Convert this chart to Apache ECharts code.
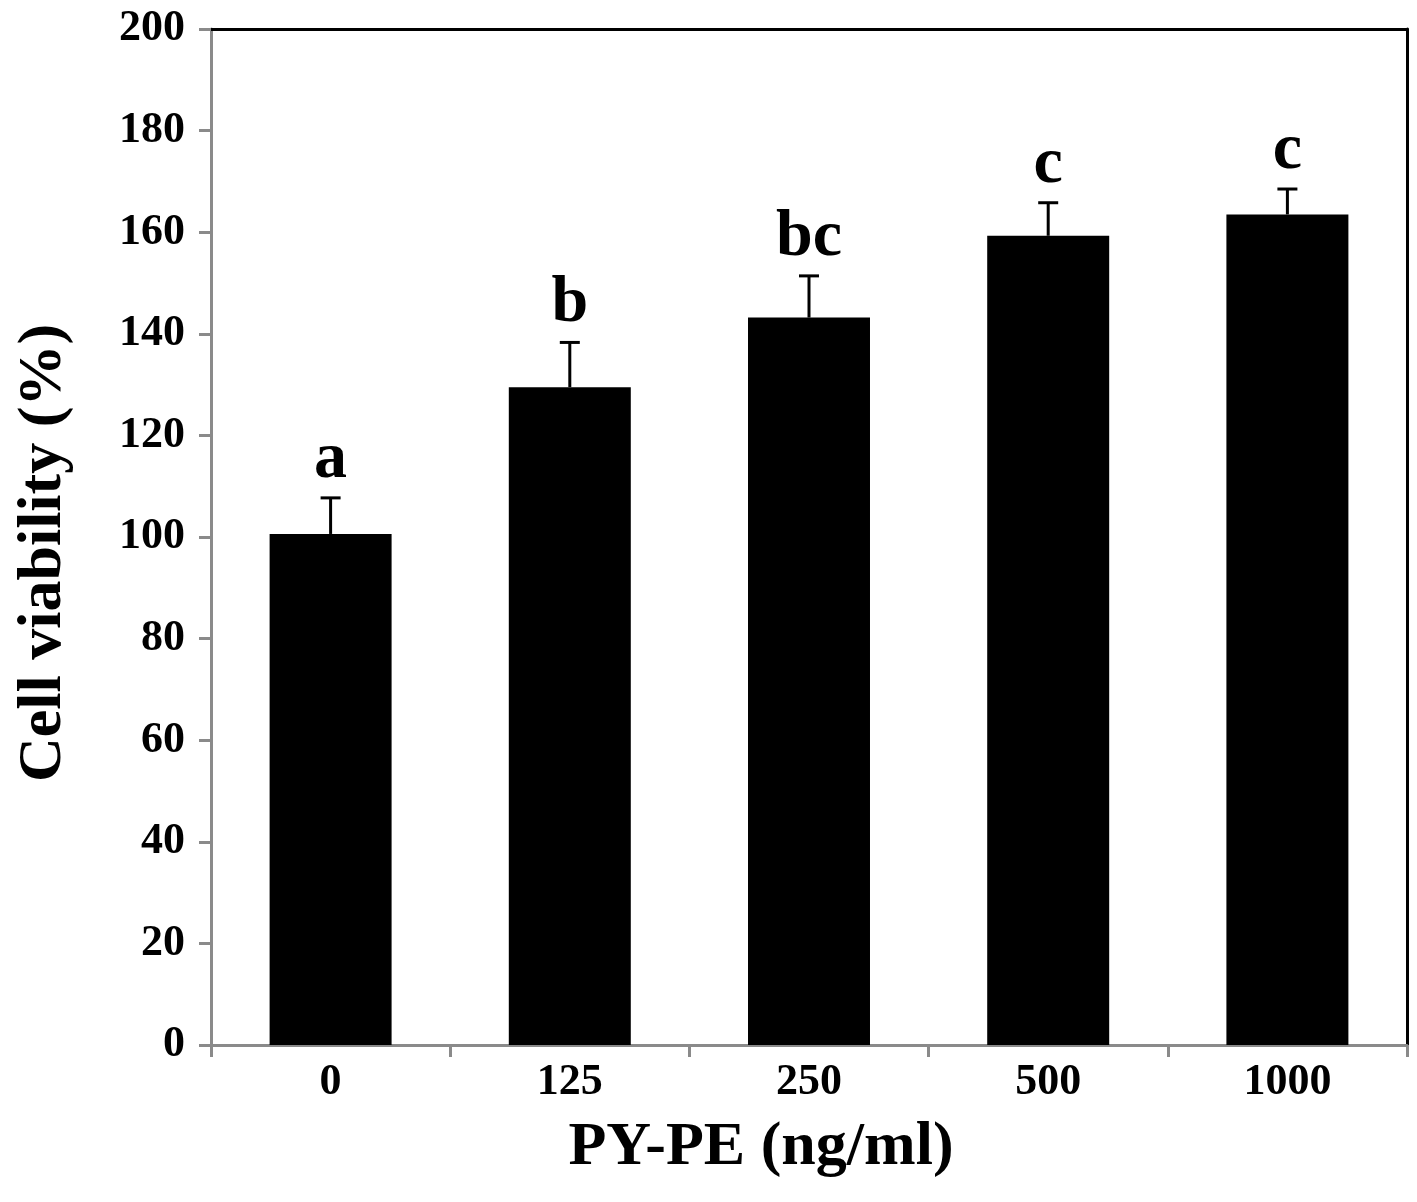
<!DOCTYPE html>
<html>
<head>
<meta charset="utf-8">
<script src="https://cdn.jsdelivr.net/npm/echarts@6/dist/echarts.min.js"></script>
<style>
  html, body { margin: 0; padding: 0; background: #fff; }
  #chart { width: 1417px; height: 1202px; }
</style>
</head>
<body>
<div id="chart"></div>
<script>
const categories = ["0", "125", "250", "500", "1000"];
const viability = [100.6, 129.5, 143.2, 159.3, 163.5];
const errors = [7.1, 8.8, 8.2, 6.5, 5.0];
const letters = ["a", "b", "bc", "c", "c"];

const serif = '"Liberation Serif", "Times New Roman", serif';
const axisGray = "#8a8a8a";

const chart = echarts.init(document.getElementById("chart"), null, { renderer: "canvas" });

chart.setOption({
  animation: false,
  backgroundColor: "#ffffff",
  grid: { left: 211, right: 10, top: 29, bottom: 157 },
  xAxis: [
    {
      type: "category",
      data: categories,
      axisLine: { onZero: false, lineStyle: { color: axisGray, width: 3 } },
      axisTick: { show: true, length: 12, lineStyle: { color: axisGray, width: 3 } },
      axisLabel: { margin: 16, color: "#000", fontFamily: serif, fontWeight: "bold", fontSize: 44 },
      name: "PY-PE (ng/ml)",
      nameLocation: "middle",
      nameGap: 72,
      nameTextStyle: { color: "#000", fontFamily: serif, fontWeight: "bold", fontSize: 62, padding: [0, 96, 0, 0] },
      splitLine: { show: false }
    },
    {
      type: "category",
      data: categories,
      position: "top",
      axisLine: { onZero: false, lineStyle: { color: "#000", width: 3 } },
      axisTick: { show: false },
      axisLabel: { show: false },
      splitLine: { show: false }
    }
  ],
  yAxis: [
    {
      type: "value",
      min: 0,
      max: 200,
      interval: 20,
      axisLine: { show: true, onZero: false, lineStyle: { color: axisGray, width: 3 } },
      axisTick: { show: true, length: 12, lineStyle: { color: axisGray, width: 3 } },
      axisLabel: { margin: 26, color: "#000", fontFamily: serif, fontWeight: "bold", fontSize: 44 },
      name: "Cell viability (%)",
      nameLocation: "middle",
      nameGap: 136,
      nameTextStyle: { color: "#000", fontFamily: serif, fontWeight: "bold", fontSize: 62, padding: [0, 32, 0, 0] },
      splitLine: { show: false }
    },
    {
      type: "value",
      min: 0,
      max: 200,
      position: "right",
      axisLine: { show: true, onZero: false, lineStyle: { color: "#000", width: 3 } },
      axisTick: { show: false },
      axisLabel: { show: false },
      splitLine: { show: false }
    }
  ],
  series: [
    {
      type: "bar",
      data: viability,
      barWidth: "51%",
      itemStyle: { color: "#000" }
    },
    {
      type: "custom",
      data: categories.map((c, i) => [i, viability[i], errors[i]]),
      encode: { x: 0, y: 1 },
      z: 5,
      renderItem(params, api) {
        const idx = api.value(0);
        const val = api.value(1);
        const err = api.value(2);
        const base = api.coord([idx, val]);
        const top = api.coord([idx, val + err]);
        return {
          type: "group",
          children: [
            {
              type: "line",
              shape: { x1: base[0], y1: base[1], x2: top[0], y2: top[1] },
              style: { stroke: "#000", lineWidth: 3 }
            },
            {
              type: "line",
              shape: { x1: top[0] - 10, y1: top[1], x2: top[0] + 10, y2: top[1] },
              style: { stroke: "#000", lineWidth: 3 }
            },
            {
              type: "text",
              x: top[0],
              y: top[1] - 5,
              style: {
                text: letters[params.dataIndex],
                fill: "#000",
                font: "bold 66px " + serif,
                align: "center",
                verticalAlign: "bottom"
              }
            }
          ]
        };
      }
    }
  ]
});
</script>
</body>
</html>
